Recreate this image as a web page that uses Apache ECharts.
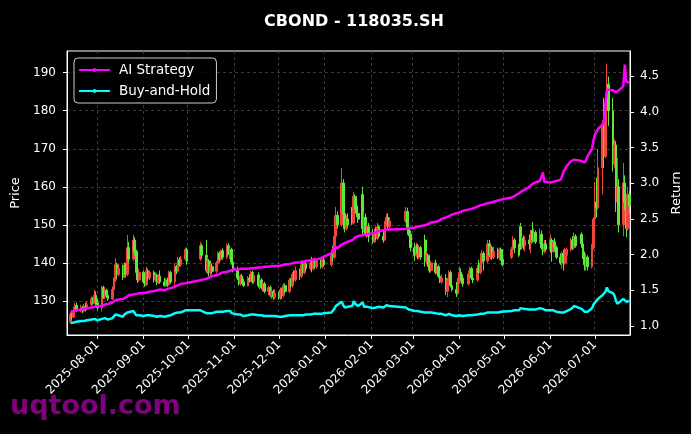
<!DOCTYPE html>
<html>
<head>
<meta charset="utf-8">
<title>CBOND - 118035.SH</title>
<script src="https://cdn.jsdelivr.net/npm/echarts@6/dist/echarts.min.js"></script>
<style>
	html, body { margin: 0; padding: 0; background: #000; }
	#main { width: 691px; height: 434px; }
</style>
</head>
<body>
<div id="main"></div>
<script type="text/javascript">
	// trading days of each month (exchange calendar)
	var months = ['2025-07','2025-08','2025-09','2025-10','2025-11','2025-12','2026-01','2026-02','2026-03','2026-04','2026-05','2026-06','2026-07'];
	var tradeDays = [
		[14,15,16,17,18,21,22,23,24,25,28,29,30,31],
		[1,4,5,6,7,8,11,12,13,14,15,18,19,20,21,22,25,26,27,28,29],
		[1,2,3,4,5,8,9,10,11,12,15,16,17,18,19,22,23,24,25,26,29,30],
		[9,10,13,14,15,16,17,20,21,22,23,24,27,28,29,30,31],
		[3,4,5,6,7,10,11,12,13,14,17,18,19,20,21,24,25,26,27,28],
		[1,2,3,4,5,8,9,10,11,12,15,16,17,18,19,22,23,24,25,26,29,30,31],
		[5,6,7,8,9,12,13,14,15,16,19,20,21,22,23,26,27,28,29,30],
		[2,3,4,5,6,9,10,11,12,13,24,25,26,27],
		[2,3,4,5,6,9,10,11,12,13,16,17,18,19,20,23,24,25,26,27,30,31],
		[1,2,3,7,8,9,10,13,14,15,16,17,20,21,22,23,24,27,28,29,30],
		[6,7,8,11,12,13,14,15,18,19,20,21,22,25,26,27,28,29],
		[1,2,3,4,5,8,9,10,11,12,15,16,17,18,22,23,24,25,26,29,30],
		[1,2,3,6,7,8,9,10,13,14,15,16,17,20,21,22,23,24]
	];
	var tickDates = ['2025-08-01','2025-09-01','2025-10-01','2025-11-01','2025-12-01','2026-01-01',
		'2026-02-01','2026-03-01','2026-04-01','2026-05-01','2026-06-01','2026-07-01'];
	var priceTicks = [130,140,150,160,170,180,190];
	var returnTicks = [1.0,1.5,2.0,2.5,3.0,3.5,4.0,4.5];

	// candles: [open, close, low, high]
	var k2507 = [[124.5,126.5,124.0,127.0],[126.5,125.8,125.0,127.5],[125.8,127.5,125.5,128.5],[127.5,128.8,127.0,129.5],[128.8,127.6,127.0,129.6],
		[127.6,128.2,127.0,129.0],[128.2,127.4,126.8,128.8],[127.4,128.5,127.0,129.2],[128.5,127.8,127.2,129.5],[127.8,129.0,127.5,129.8],
		[129.0,130.5,128.6,131.2],[130.5,129.4,129.0,131.0],[129.4,131.5,129.2,133.0],[131.5,129.5,128.8,132.5]];
	var k2508 = [[129.5,128.2,127.5,130.5],
		[128.2,133.5,127.2,134.0],[133.5,131.0,130.5,134.0],[131.0,132.8,130.5,133.5],[132.8,131.5,130.8,133.2],[131.5,130.5,130.0,132.5],
		[130.5,133.0,130.2,133.8],[133.0,135.5,132.5,136.2],[135.5,139.5,135.0,141.3],[139.5,137.0,136.0,140.0],[137.0,138.5,136.5,139.8],
		[138.5,136.2,135.5,139.5],[136.2,139.5,136.0,140.2],[139.5,137.0,136.3,140.0],[137.0,144.0,136.5,147.4],[144.0,141.0,140.0,145.5],
		[141.0,146.0,140.5,147.4],[146.0,143.0,142.0,146.8],[143.0,137.5,136.5,143.5],[137.5,135.5,134.7,138.5],[135.5,137.5,135.0,138.5]];
	var k2509 = [[137.5,135.0,134.5,138.0],[135.0,134.2,133.7,136.0],[134.2,137.8,134.0,139.0],[137.8,136.0,135.5,138.5],[136.0,137.5,135.5,138.0],
		[137.5,135.5,134.8,138.0],[135.5,136.8,135.0,137.5],[136.8,134.8,134.2,137.2],[134.8,136.5,134.5,137.0],[136.5,135.0,134.5,138.0],
		[135.0,134.0,133.8,136.0],[134.0,135.5,133.8,136.0],[135.5,134.2,133.7,136.2],[134.2,137.5,134.0,138.0],[137.5,135.0,134.5,138.0],
		[135.0,139.0,133.8,140.0],[139.0,137.8,137.0,139.5],[137.8,140.8,137.5,141.6],[140.8,139.5,139.0,141.5],[139.5,141.0,139.0,141.8],
		[141.0,143.5,140.5,144.0],[143.5,140.5,139.5,144.0]];
	var k2510 = [[141.0,144.5,140.5,145.5],[144.5,142.0,141.0,145.0],
		[142.0,138.0,137.4,146.0],[138.0,140.5,137.0,141.6],[140.5,137.5,136.5,141.0],[137.5,139.0,136.5,140.0],[139.0,137.8,137.0,139.8],
		[137.8,140.0,137.2,140.5],[140.0,142.5,139.5,143.0],[142.5,141.0,140.5,143.0],[141.0,143.2,140.5,143.5],[143.2,141.5,140.8,143.8],
		[141.5,144.5,141.0,145.0],[144.5,142.5,142.0,145.2],[142.5,143.5,141.0,144.0],[143.5,140.2,139.5,144.0],[140.2,138.0,137.5,141.0]];
	var k2511 = [[138.0,136.0,135.5,139.0],[136.0,134.5,134.0,137.5],[134.5,136.5,134.0,137.0],[136.5,135.0,134.5,137.0],[135.0,134.0,133.7,135.8],
		[134.0,136.0,133.8,136.5],[136.0,135.5,134.8,137.0],[135.5,137.5,135.0,138.0],[137.5,135.0,134.5,138.0],[135.0,136.8,134.5,137.5],
		[136.8,134.0,133.5,137.5],[134.0,135.5,133.0,136.0],[135.5,133.5,133.0,136.0],[133.5,134.5,132.5,135.0],[134.5,132.5,132.0,135.0],
		[132.5,133.5,131.5,134.0],[133.5,131.5,131.0,134.0],[131.5,132.5,130.5,133.5],[132.5,131.0,130.3,133.0],[131.0,132.0,130.5,133.0]];
	var k2512 = [[132.0,130.8,130.3,132.5],[130.8,133.0,130.3,133.5],[133.0,131.5,130.5,133.5],[131.5,134.0,131.0,134.7],[134.0,132.5,132.0,134.5],
		[132.5,135.5,132.0,136.0],[135.5,134.0,133.5,136.0],[134.0,137.0,133.5,137.5],[137.0,135.5,135.0,138.0],[135.5,138.0,135.0,139.0],
		[138.0,136.5,135.5,138.5],[136.5,139.5,136.0,140.8],[139.5,137.5,137.0,140.0],[137.5,139.8,137.0,140.5],[139.8,138.5,137.8,140.5],
		[138.5,140.0,138.0,140.8],[140.0,138.5,137.5,141.6],[138.5,140.5,138.0,141.0],[140.5,139.0,138.5,141.3],[139.0,140.5,138.5,141.0],
		[140.5,139.0,138.5,141.5],[139.0,140.8,138.5,141.5],[140.8,139.5,139.0,141.5]];
	var k2601 = [[139.5,142.5,139.0,143.5],[142.5,141.5,140.5,144.5],[141.5,147.0,141.0,148.0],[147.0,152.5,145.5,154.7],[152.5,150.0,149.0,153.5],
		[150.0,161.0,149.5,165.0],[161.0,153.0,152.0,162.0],[153.0,149.0,148.0,157.4],[149.0,151.5,148.5,152.5],[151.5,150.0,149.5,153.0],
		[153.0,150.5,150.0,154.7],[150.5,157.5,150.0,158.7],[157.5,155.0,154.0,158.0],[155.0,153.0,152.0,156.0],[153.0,151.5,150.5,154.0],
		[158.0,149.0,147.0,160.0],[149.0,152.0,148.0,153.5],[152.0,147.5,147.0,153.0],[147.5,149.5,146.5,150.0],[149.5,147.0,145.5,150.5]];
	var k2602 = [[147.0,145.5,145.0,149.0],[145.5,148.0,145.3,149.0],[148.0,146.5,146.0,149.5],[146.5,149.5,146.0,150.5],[149.5,147.0,146.5,150.0],
		[147.0,146.0,145.3,148.5],[146.0,150.0,145.8,151.0],[150.0,152.0,149.5,153.0],[152.0,149.5,149.0,153.0],[149.5,151.0,148.5,152.0],
		[151.0,153.5,150.5,154.7],[153.5,149.0,148.5,154.5],[149.0,147.5,147.0,150.5],[147.5,144.0,143.0,148.5]];
	var k2603 = [[144.0,142.0,140.5,145.3],[142.0,144.5,141.5,145.3],[144.5,142.5,141.0,145.0],[142.5,144.0,141.0,144.5],[144.0,141.5,140.8,144.5],
		[146.0,140.5,139.0,147.4],[140.5,142.0,139.5,143.0],[142.0,139.5,139.0,142.5],[139.5,138.0,137.4,141.6],[138.0,140.0,137.5,140.5],
		[140.0,137.5,137.0,140.8],[137.5,139.0,137.0,139.5],[139.0,136.5,136.0,139.5],[136.5,135.0,134.7,137.5],[135.0,136.0,134.5,137.0],
		[136.0,132.5,131.5,137.0],[132.5,135.5,131.0,136.0],[135.5,137.5,135.0,138.0],[137.5,134.0,133.5,138.0],[134.0,133.0,132.5,135.0],
		[133.0,132.0,131.0,135.0],[132.0,135.0,131.5,136.0]];
	var k2604 = [[135.0,137.5,134.5,139.0],[137.5,136.0,135.5,138.5],[136.0,134.5,133.7,137.0],
		[134.5,137.0,134.0,138.0],[137.0,138.5,136.5,139.0],[138.5,136.0,135.5,139.0],[136.0,135.5,134.7,137.0],
		[135.5,138.5,135.0,139.5],[138.5,137.5,137.0,140.8],[137.5,140.0,137.0,140.8],[140.0,142.5,139.5,143.4],[142.5,140.5,138.0,143.0],
		[140.5,145.0,140.0,146.0],[145.0,142.0,141.5,146.0],[142.0,144.0,141.0,144.5],[144.0,141.5,140.8,144.5],[141.5,143.0,141.0,144.0],
		[143.0,141.5,141.0,144.0],[141.5,143.5,140.8,144.0],[143.5,141.0,140.5,144.0],[141.0,139.5,139.0,142.0]];
	var k2605 = [[141.5,143.5,141.0,144.2],[143.5,146.0,143.0,147.0],[146.0,144.0,142.6,146.5],
		[144.0,142.0,141.5,145.0],[149.5,144.0,143.4,150.5],[144.0,146.5,143.5,147.0],[146.5,144.5,143.5,147.2],[144.5,146.0,143.0,147.0],
		[146.0,145.0,143.5,147.5],[145.0,148.5,142.6,148.7],[148.5,146.0,145.3,150.8],[146.0,148.0,145.5,149.0],[148.0,145.5,145.0,148.5],
		[145.5,147.5,145.0,149.0],[147.5,144.0,143.5,148.5],[144.0,143.0,142.0,145.5],[143.0,145.0,142.5,146.0],[145.0,143.5,143.0,146.0]];
	var k2606 = [[143.5,146.0,142.5,147.4],[146.0,143.0,140.3,146.5],[143.0,145.5,142.5,146.0],[145.5,144.0,143.0,146.5],[144.0,141.5,141.0,144.5],
		[141.5,140.0,139.5,142.5],[140.0,142.5,138.5,143.0],[142.5,140.0,138.0,143.5],[140.0,142.0,139.5,144.0],[142.0,143.5,141.0,144.0],
		[143.5,146.0,143.0,146.6],[146.0,144.0,143.5,147.0],[144.0,147.0,143.5,148.0],[147.0,144.5,144.0,147.5],
		[147.5,145.0,144.0,148.0],[145.0,142.0,141.0,146.0],[142.0,139.5,138.0,143.0],[139.5,141.5,138.0,142.5],[141.5,139.0,138.0,142.0],
		[139.0,144.0,138.5,145.0],[144.0,151.5,143.5,152.0]];
	var k2607 = [[151.5,156.0,149.5,161.3],[156.0,154.5,152.0,162.4],[154.5,165.0,154.0,170.0],
		[165.0,176.0,158.0,177.5],[176.0,168.0,165.0,183.4],[168.0,181.0,167.5,183.0],[181.0,187.0,179.5,192.4],[187.0,180.0,176.0,189.0],
		[180.0,166.0,164.0,183.4],[166.0,171.0,165.0,172.5],[171.0,156.0,153.4,172.0],[156.0,160.0,155.0,167.6],[160.0,150.0,148.0,162.0],
		[150.0,161.0,147.0,166.3],[161.0,156.0,154.0,163.0],[156.0,149.0,146.8,158.0],[149.0,158.0,148.5,160.0],[158.0,155.0,153.0,159.0]];

	// AI Strategy cumulative return
	var ai2507 = [1.20,1.21,1.21,1.22,1.22,1.23,1.23,1.24,1.24,1.25,1.26,1.26,1.27,1.27];
	var ai2508 = [1.28,1.28,1.29,1.30,1.31,1.31,1.33,1.34,1.36,1.36,1.37,1.38,1.40,1.40,1.42,1.43,1.44,1.44,1.45,1.45,1.46];
	var ai2509 = [1.46,1.47,1.47,1.48,1.48,1.49,1.49,1.50,1.51,1.51,1.50,1.51,1.52,1.53,1.53,1.55,1.56,1.57,1.58,1.59,1.60,1.61];
	var ai2510 = [1.64,1.65,1.66,1.67,1.68,1.69,1.70,1.71,1.72,1.73,1.74,1.75,1.76,1.77,1.77,1.78,1.79];
	var ai2511 = [1.79,1.79,1.80,1.79,1.80,1.80,1.80,1.81,1.81,1.81,1.82,1.82,1.82,1.83,1.83,1.83,1.84,1.84,1.84,1.84];
	var ai2512 = [1.84,1.85,1.85,1.86,1.86,1.87,1.87,1.88,1.88,1.89,1.89,1.90,1.90,1.91,1.91,1.92,1.92,1.93,1.93,1.93,1.95,1.96,1.97];
	var ai2601 = [2.02,2.06,2.12,2.10,2.09,2.14,2.15,2.16,2.17,2.18,2.20,2.22,2.24,2.25,2.26,2.27,2.27,2.28,2.28,2.29];
	var ai2602 = [2.30,2.30,2.31,2.32,2.33,2.34,2.34,2.35,2.35,2.35,2.36,2.36,2.37,2.38];
	var ai2603 = [2.38,2.38,2.39,2.39,2.40,2.41,2.42,2.43,2.44,2.45,2.46,2.47,2.47,2.48,2.50,2.52,2.53,2.54,2.55,2.56,2.58,2.59];
	var ai2604 = [2.59,2.60,2.61,2.63,2.64,2.64,2.65,2.67,2.68,2.69,2.70,2.70,2.72,2.72,2.73,2.74,2.74,2.76,2.76,2.77,2.77];
	var ai2605 = [2.80,2.81,2.82,2.86,2.88,2.89,2.90,2.91,2.95,2.97,2.99,3.00,3.01,3.03,3.05,3.15,3.02,3.01];
	var ai2606 = [3.01,3.01,3.02,3.02,3.03,3.05,3.10,3.17,3.20,3.24,3.31,3.33,3.33,3.33,3.31,3.30,3.29,3.32,3.38,3.48,3.60];
	var ai2607 = [3.68,3.72,3.76,3.82,3.86,4.12,4.31,4.31,4.30,4.28,4.27,4.28,4.30,4.36,4.66,4.42,4.40,4.41];

	// Buy-and-Hold cumulative return
	var bh2507 = [1.04,1.05,1.05,1.06,1.06,1.07,1.07,1.07,1.08,1.08,1.09,1.09,1.10,1.09];
	var bh2508 = [1.08,1.10,1.10,1.11,1.10,1.09,1.11,1.13,1.16,1.15,1.15,1.13,1.16,1.14,1.19,1.17,1.21,1.19,1.15,1.13,1.15];
	var bh2509 = [1.14,1.13,1.15,1.14,1.15,1.14,1.15,1.13,1.14,1.14,1.13,1.14,1.14,1.16,1.15,1.18,1.17,1.19,1.18,1.19,1.22,1.20];
	var bh2510 = [1.22,1.20,1.18,1.19,1.18,1.19,1.18,1.20,1.21,1.20,1.21,1.20,1.21,1.20,1.21,1.18,1.16];
	var bh2511 = [1.16,1.15,1.16,1.15,1.14,1.15,1.15,1.16,1.15,1.16,1.15,1.16,1.15,1.15,1.14,1.14,1.13,1.14,1.13,1.14];
	var bh2512 = [1.13,1.14,1.13,1.14,1.14,1.15,1.14,1.15,1.15,1.15,1.15,1.16,1.15,1.16,1.16,1.16,1.16,1.17,1.16,1.17,1.17,1.18,1.18];
	var bh2601 = [1.19,1.20,1.24,1.28,1.26,1.34,1.29,1.26,1.28,1.27,1.28,1.35,1.31,1.29,1.28,1.33,1.27,1.26,1.27,1.26];
	var bh2602 = [1.25,1.27,1.26,1.28,1.27,1.26,1.28,1.29,1.27,1.28,1.26,1.24,1.23,1.21];
	var bh2603 = [1.21,1.22,1.21,1.22,1.20,1.19,1.20,1.19,1.18,1.19,1.18,1.19,1.17,1.16,1.17,1.15,1.16,1.17,1.16,1.15,1.14,1.15];
	var bh2604 = [1.15,1.14,1.14,1.15,1.16,1.15,1.15,1.16,1.16,1.17,1.18,1.17,1.19,1.18,1.19,1.18,1.19,1.19,1.20,1.20,1.19];
	var bh2605 = [1.21,1.23,1.22,1.22,1.25,1.24,1.24,1.25,1.23,1.24,1.23,1.24,1.23,1.25,1.26,1.24,1.23,1.22];
	var bh2606 = [1.22,1.21,1.22,1.21,1.20,1.19,1.20,1.19,1.20,1.21,1.24,1.26,1.28,1.26,1.24,1.22,1.20,1.21,1.20,1.25,1.30];
	var bh2607 = [1.33,1.31,1.38,1.43,1.41,1.48,1.54,1.49,1.46,1.43,1.36,1.31,1.33,1.38,1.40,1.34,1.36,1.35];

	var kMonths = [k2507,k2508,k2509,k2510,k2511,k2512,k2601,k2602,k2603,k2604,k2605,k2606,k2607];
	var aiMonths = [ai2507,ai2508,ai2509,ai2510,ai2511,ai2512,ai2601,ai2602,ai2603,ai2604,ai2605,ai2606,ai2607];
	var bhMonths = [bh2507,bh2508,bh2509,bh2510,bh2511,bh2512,bh2601,bh2602,bh2603,bh2604,bh2605,bh2606,bh2607];

	function pad(n){ return n < 10 ? '0' + n : '' + n; }

	// every calendar day on the axis
	var days = [];
	for (var t = Date.UTC(2025, 6, 12); t <= Date.UTC(2026, 6, 24); t += 86400000) {
		var d = new Date(t);
		days.push(d.getUTCFullYear() + '-' + pad(d.getUTCMonth() + 1) + '-' + pad(d.getUTCDate()));
	}

	var candles = [], aiLine = [], bhLine = [];
	months.forEach(function(m, mi){
		tradeDays[mi].forEach(function(day, di){
			var date = m + '-' + pad(day);
			var k = kMonths[mi][di];
			if (k) candles.push([date, k[0], k[1], k[2], k[3]]);
			if (aiMonths[mi][di] != null) aiLine.push([date, aiMonths[mi][di]]);
			if (bhMonths[mi][di] != null) bhLine.push([date, bhMonths[mi][di]]);
		});
	});

	function isTick(index, value){ return tickDates.indexOf(value) >= 0; }

	var white = '#ffffff';
	var gridLine = {show: true, lineStyle: {color: '#4a4a4a', width: 0.8, type: [3, 3]}};

	var option = {
		backgroundColor: '#000000',
		animation: false,
		textStyle: {fontFamily: 'DejaVu Sans', color: white},
		title: {
			text: 'CBOND - 118035.SH',
			left: 349, top: 9, textAlign: 'center',
			textStyle: {color: white, fontSize: 16, fontWeight: 'bold', fontFamily: 'DejaVu Sans'}
		},
		legend: {
			data: ['AI Strategy', 'Buy-and-Hold'],
			orient: 'vertical',
			left: 74, top: 58,
			padding: [5, 6, 5, 4],
			itemGap: 7,
			itemWidth: 31, itemHeight: 5,
			backgroundColor: 'rgba(0,0,0,0.8)',
			borderColor: '#cccccc', borderWidth: 1, borderRadius: 4,
			textStyle: {color: white, fontSize: 13.5, fontFamily: 'DejaVu Sans', padding: [0, 0, 0, 4], lineHeight: 14}
		},
		grid: {
			left: 67, right: 61, top: 51, bottom: 99,
			show: true, borderColor: white, borderWidth: 1, backgroundColor: 'transparent'
		},
		xAxis: {
			type: 'category',
			data: days,
			boundaryGap: true,
			axisLine: {show: true, lineStyle: {color: white}},
			axisTick: {show: true, interval: isTick, alignWithLabel: true, length: 4, lineStyle: {color: white}},
			axisLabel: {interval: isTick, rotate: 45, margin: 8, color: white, fontSize: 12, fontFamily: 'DejaVu Sans'},
			splitLine: {show: true, interval: isTick, lineStyle: gridLine.lineStyle}
		},
		yAxis: [{
			type: 'value',
			position: 'left',
			min: 121.04, max: 195.7,
			splitNumber: 7,
			name: 'Price', nameLocation: 'middle', nameGap: 43,
			nameTextStyle: {color: white, fontSize: 13, fontFamily: 'DejaVu Sans'},
			axisLine: {show: true, lineStyle: {color: white}},
			axisTick: {show: true, length: 4, lineStyle: {color: white}, customValues: priceTicks},
			axisLabel: {color: white, fontSize: 12, margin: 11, customValues: priceTicks},
			splitLine: gridLine
		}, {
			type: 'value',
			position: 'right',
			min: 0.874, max: 4.851,
			splitNumber: 8,
			name: 'Return', nameLocation: 'middle', nameGap: 37,
			nameTextStyle: {color: white, fontSize: 13, fontFamily: 'DejaVu Sans'},
			axisLine: {show: true, lineStyle: {color: white}},
			axisTick: {show: true, length: 4, lineStyle: {color: white}, customValues: returnTicks},
			axisLabel: {color: white, fontSize: 12, margin: 10,
				customValues: returnTicks, formatter: function(v){ return v.toFixed(1); }},
			splitLine: {show: false}
		}],
		graphic: [{
			type: 'text', left: 10, top: 393, z: -1,
			style: {text: 'uqtool.com', fill: '#800080', font: 'bold 27px "DejaVu Sans"'}
		}],
		series: [{
			name: 'CBOND',
			type: 'candlestick',
			data: candles,
			encode: {x: 0, y: [1, 2, 3, 4]},
			barWidth: 2.2,
			itemStyle: {color: '#f0453a', color0: '#5fe83a', borderColor: '#f0453a', borderColor0: '#5fe83a', borderWidth: 1}
		}, {
			name: 'AI Strategy',
			type: 'line',
			yAxisIndex: 1,
			data: aiLine,
			symbol: 'circle', symbolSize: 4, showSymbol: false,
			lineStyle: {color: '#ff00ff', width: 2.5},
			itemStyle: {color: '#ff00ff'},
			z: 5
		}, {
			name: 'Buy-and-Hold',
			type: 'line',
			yAxisIndex: 1,
			data: bhLine,
			symbol: 'circle', symbolSize: 4, showSymbol: false,
			lineStyle: {color: '#00ffff', width: 2.5},
			itemStyle: {color: '#00ffff'},
			z: 5
		}]
	};

	var myChart = echarts.init(document.getElementById('main'));
	myChart.setOption(option);
</script>
</body>
</html>
